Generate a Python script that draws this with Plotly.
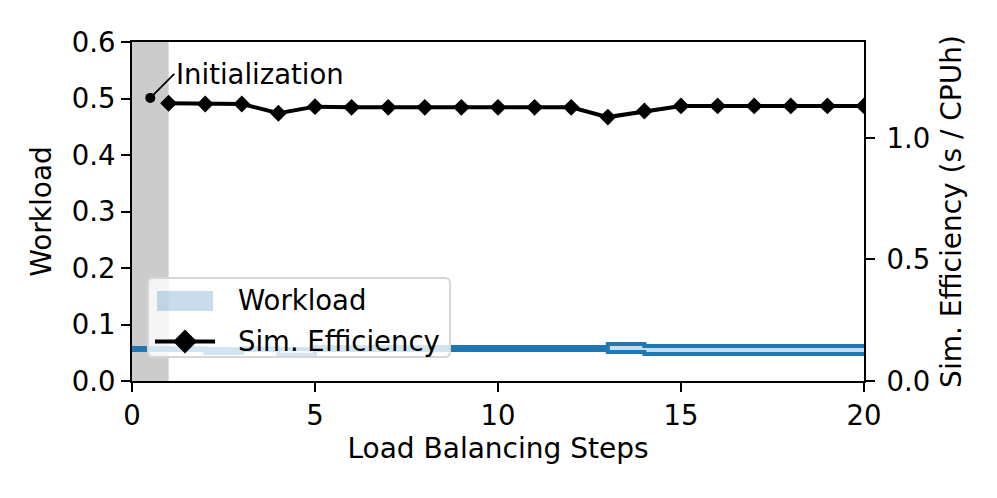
import plotly.graph_objects as go

# ---- data ----
steps = list(range(21))                      # step edges 0..20
wl_min = [0.0549, 0.055, 0.0496, 0.055, 0.046, 0.0549, 0.0549, 0.0549, 0.0549, 0.0549,
          0.0549, 0.0549, 0.0549, 0.0513, 0.0478, 0.0478, 0.0478, 0.0478, 0.0478, 0.0478]
wl_max = [0.0584, 0.058, 0.0566, 0.058, 0.0566, 0.0602, 0.0602, 0.0602, 0.0602, 0.0602,
          0.0602, 0.0602, 0.0602, 0.0655, 0.062, 0.062, 0.062, 0.062, 0.062, 0.062]
eff_x = list(range(1, 21))
eff_y = [1.143, 1.140, 1.140, 1.102, 1.129, 1.126, 1.126, 1.126, 1.126, 1.126,
         1.126, 1.126, 1.086, 1.111, 1.132, 1.132, 1.132, 1.132, 1.132, 1.132]
init_x = [0.5]
init_y = [1.165]
left_ticks = [0.0, 0.1, 0.2, 0.3, 0.4, 0.5, 0.6]
right_ticks = [0.0, 0.5, 1.0]
x_ticks = [0, 5, 10, 15, 20]
legend_labels = ["Workload", "Sim. Efficiency"]

FONT = "DejaVu Sans"
FS_TICK = 27.5
FS_TITLE = 28
FS_TEXT = 27.5
C0 = "#1f77b4"

# page body has an 8px margin; compensate so the plot lands where the reference has it
OFF = 8
VW, VH = 997, 498
W, H = VW - OFF, VH - OFF
# plot-area geometry in viewport pixels
L, R, T, B = 132, 864, 42, 381


def px(x):
    return (x - L) / (R - L)


def py(y):
    return (B - y) / (B - T)


lo = wl_min + [wl_min[-1]]
hi = wl_max + [wl_max[-1]]

fig = go.Figure()
fig.add_trace(go.Scatter(x=steps, y=lo, mode="lines", line=dict(width=0, shape="hv"),
                         showlegend=False, hoverinfo="skip"))
fig.add_trace(go.Scatter(x=steps, y=hi, mode="lines", line=dict(width=0, shape="hv"),
                         fill="tonexty", fillcolor="rgba(31,119,180,0.25)",
                         showlegend=False))
fig.add_trace(go.Scatter(x=steps, y=lo, mode="lines", line=dict(width=4, color=C0, shape="hv"),
                         showlegend=False))
fig.add_trace(go.Scatter(x=steps, y=hi, mode="lines", line=dict(width=4, color=C0, shape="hv"),
                         showlegend=False))
fig.add_trace(go.Scatter(x=eff_x, y=eff_y, yaxis="y2", mode="lines+markers",
                         line=dict(color="black", width=4),
                         marker=dict(symbol="diamond", size=13, color="black"),
                         showlegend=False))
fig.add_trace(go.Scatter(x=init_x, y=init_y, yaxis="y2", mode="markers",
                         marker=dict(size=10, color="black"), showlegend=False))

fig.add_shape(type="rect", xref="x", yref="paper", x0=0, x1=1, y0=0, y1=1,
              fillcolor="#cccccc", line=dict(width=0), layer="below")

fig.add_annotation(x=init_x[0], y=init_y[0], xref="x", yref="y2",
                   text="Initialization", showarrow=True, arrowhead=0, arrowwidth=1.8,
                   arrowcolor="black", ax=24, ay=-24, xanchor="left", yanchor="middle",
                   font=dict(family=FONT, size=FS_TEXT, color="black"))

# ---- manual legend (matplotlib style) ----
bx0, bx1, by0, by1, r = 148, 450, 278, 357, 5
rx, ry = r / (R - L), r / (B - T)
X0, X1, Y0, Y1 = px(bx0), px(bx1), py(by1), py(by0)
box = (f"M{X0+rx},{Y0} L{X1-rx},{Y0} Q{X1},{Y0} {X1},{Y0+ry} L{X1},{Y1-ry} "
       f"Q{X1},{Y1} {X1-rx},{Y1} L{X0+rx},{Y1} Q{X0},{Y1} {X0},{Y1-ry} "
       f"L{X0},{Y0+ry} Q{X0},{Y0} {X0+rx},{Y0} Z")
fig.add_shape(type="path", path=box, xref="paper", yref="paper",
              fillcolor="rgba(255,255,255,0.8)", line=dict(color="#d6d6d6", width=2),
              layer="above")
fig.add_shape(type="rect", xref="paper", yref="paper", x0=px(157), x1=px(213),
              y0=py(311), y1=py(291), fillcolor="rgba(31,119,180,0.25)",
              line=dict(width=0), layer="above")
ly = 341.5
fig.add_shape(type="line", xref="paper", yref="paper", x0=px(155), x1=px(215),
              y0=py(ly), y1=py(ly), line=dict(color="black", width=4), layer="above")
cx, d = 185, 12
diamond = (f"M{px(cx-d)},{py(ly)} L{px(cx)},{py(ly-d)} L{px(cx+d)},{py(ly)} "
           f"L{px(cx)},{py(ly+d)} Z")
fig.add_shape(type="path", path=diamond, xref="paper", yref="paper",
              fillcolor="black", line=dict(width=0), layer="above")
for lab, yy in zip(legend_labels, [300, 341]):
    fig.add_annotation(x=px(236), y=py(yy), xref="paper", yref="paper", text=lab,
                       showarrow=False, xanchor="left", yanchor="middle",
                       font=dict(family=FONT, size=FS_TEXT, color="black"))

axis_common = dict(showline=True, linecolor="black", linewidth=2, ticks="outside",
                   ticklen=9, tickwidth=2, tickcolor="black", showgrid=False, zeroline=False,
                   automargin=False,
                   tickfont=dict(family=FONT, size=FS_TICK, color="black"))

fig.update_layout(
    width=W, height=H,
    margin=dict(l=L - OFF, r=VW - R, t=T - OFF, b=VH - B),
    plot_bgcolor="white", paper_bgcolor="white",
    font=dict(family=FONT, size=FS_TICK, color="black"),
    xaxis=dict(range=[0, 20], tickvals=x_ticks, mirror=True,
               title=dict(text="Load Balancing Steps", standoff=8,
                          font=dict(size=FS_TITLE)), **axis_common),
    yaxis=dict(range=[0, 0.6], tickvals=left_ticks, tickformat=".1f",
               title=dict(text="Workload", standoff=12, font=dict(size=FS_TITLE)),
               **axis_common),
    yaxis2=dict(range=[0, 1.395], tickvals=right_ticks, tickformat=".1f", overlaying="y",
                side="right", ticklabelstandoff=6,
                title=dict(text="Sim. Efficiency (s / CPUh)", standoff=12,
                           font=dict(size=FS_TITLE)),
                **axis_common),
    showlegend=False,
)

fig.write_html("out.html")
